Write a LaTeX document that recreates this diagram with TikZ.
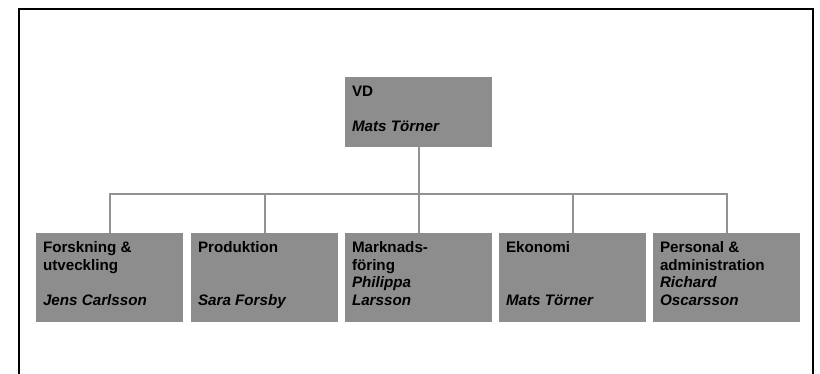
\documentclass[tikz,border=0pt]{standalone}
\usepackage{fontspec}
\setmainfont{Liberation Sans}
\definecolor{boxgray}{RGB}{141,141,141}
\definecolor{linegray}{RGB}{146,146,146}
% text block of an org box: first baseline 19.5pt below the top, fixed height
\newcommand{\orgtext}[3]{\parbox[t][#1][t]{#2}{\rule{0pt}{19.5pt}#3}}
\begin{document}
\begin{tikzpicture}[x=1pt,y=-1pt,
  orgbox/.style={fill=boxgray, draw=none, inner xsep=7pt, inner ysep=0pt,
    font=\fontsize{15.2pt}{17.7pt}\selectfont\bfseries, align=left},
  link/.style={draw=linegray, line width=2pt}]
\useasboundingbox (0,0) rectangle (820,374);
% page frame, open at the bottom
\draw[line width=2pt] (19,380) -- (19,9) -- (813,9) -- (813,380);

\node[orgbox] (vd) at (418.5,112) {\orgtext{70pt}{133pt}{VD\\~\\\itshape Mats Törner}};

\node[orgbox] (fu) at (109.5,277.5) {\orgtext{89pt}{133pt}{Forskning \&\\utveckling\\~\\\itshape Jens Carlsson}};
\node[orgbox] (pr) at (264.5,277.5) {\orgtext{89pt}{133pt}{Produktion\\~\\~\\\itshape Sara Forsby}};
\node[orgbox] (mf) at (418.5,277.5) {\orgtext{89pt}{133pt}{Marknads-\\föring\\\itshape Philippa\\Larsson}};
\node[orgbox] (ek) at (572.5,277.5) {\orgtext{89pt}{133pt}{Ekonomi\\~\\~\\\itshape Mats Törner}};
\node[orgbox] (pa) at (726.5,277.5) {\orgtext{89pt}{133pt}{Personal \&\\administration\\\itshape Richard\\Oscarsson}};

\coordinate (bus) at (0,194);
\draw[link] (vd.south) -- (vd.south |- bus);
\draw[link] (fu.north) -- (fu.north |- bus) -- (pa.north |- bus) -- (pa.north);
\draw[link] (pr.north) -- (pr.north |- bus);
\draw[link] (mf.north) -- (mf.north |- bus);
\draw[link] (ek.north) -- (ek.north |- bus);
\end{tikzpicture}
\end{document}
